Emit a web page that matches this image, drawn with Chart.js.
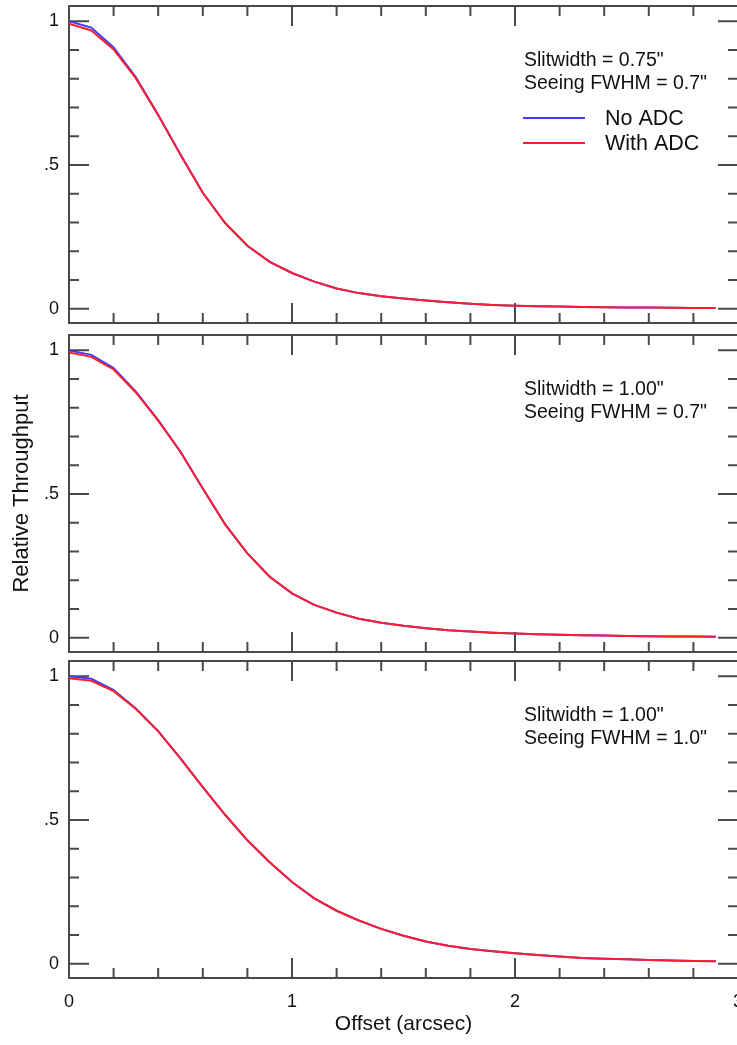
<!DOCTYPE html>
<html>
<head>
<meta charset="utf-8">
<script src="https://cdn.jsdelivr.net/npm/chart.js@4.4.1/dist/chart.umd.min.js"></script>
<style>
  html, body { margin: 0; padding: 0; background: #fff; overflow: hidden; width: 737px; height: 1045px; }
  canvas { position: absolute; left: 0; }
</style>
</head>
<body>
<canvas id="panel1" width="740" height="330" style="top:0px"></canvas>
<canvas id="panel2" width="740" height="325" style="top:330px"></canvas>
<canvas id="panel3" width="740" height="390" style="top:655px"></canvas>
<script>
// offsets along the slit (arcsec)
const offsets = [0, 0.1, 0.2, 0.3, 0.4, 0.5, 0.6, 0.7, 0.8, 0.9, 1.0, 1.1, 1.2, 1.3, 1.4,
                 1.5, 1.6, 1.7, 1.8, 1.9, 2.0, 2.1, 2.2, 2.3, 2.4, 2.5, 2.6, 2.7, 2.8, 2.9];

// slit 0.75", seeing 0.7"
const noAdc1 = [1.000, 0.978, 0.909, 0.805, 0.675, 0.536, 0.403, 0.298, 0.219, 0.163, 0.124, 0.094, 0.070, 0.054, 0.043,
                0.035, 0.028, 0.022, 0.017, 0.013, 0.010, 0.008, 0.007, 0.006, 0.005, 0.004, 0.0035, 0.003, 0.0025, 0.002];
const withAdc1 = [0.991, 0.968, 0.902, 0.801, 0.673, 0.535, 0.403, 0.298, 0.219, 0.163, 0.124, 0.094, 0.070, 0.054, 0.043,
                  0.035, 0.028, 0.022, 0.017, 0.013, 0.010, 0.008, 0.007, 0.006, 0.005, 0.004, 0.0035, 0.003, 0.0025, 0.002];
// slit 1.00", seeing 0.7"
const noAdc2 = [0.999, 0.984, 0.938, 0.856, 0.757, 0.647, 0.519, 0.394, 0.293, 0.212, 0.154, 0.114, 0.087, 0.066, 0.052,
                0.041, 0.033, 0.026, 0.021, 0.017, 0.014, 0.012, 0.010, 0.008, 0.007, 0.006, 0.005, 0.004, 0.004, 0.003];
const withAdc2 = [0.992, 0.977, 0.933, 0.853, 0.755, 0.646, 0.519, 0.394, 0.293, 0.212, 0.154, 0.114, 0.087, 0.066, 0.052,
                  0.041, 0.033, 0.026, 0.021, 0.017, 0.014, 0.012, 0.010, 0.008, 0.007, 0.006, 0.005, 0.004, 0.004, 0.003];
// slit 1.00", seeing 1.0"
const noAdc3 = [1.000, 0.991, 0.952, 0.888, 0.809, 0.714, 0.614, 0.518, 0.429, 0.353, 0.284, 0.227, 0.184, 0.150, 0.121,
                0.097, 0.077, 0.062, 0.051, 0.043, 0.036, 0.030, 0.025, 0.020, 0.017, 0.015, 0.013, 0.011, 0.009, 0.008];
const withAdc3 = [0.993, 0.984, 0.948, 0.886, 0.808, 0.713, 0.614, 0.518, 0.429, 0.353, 0.284, 0.227, 0.184, 0.150, 0.121,
                  0.097, 0.077, 0.062, 0.051, 0.043, 0.036, 0.030, 0.025, 0.020, 0.017, 0.015, 0.013, 0.011, 0.009, 0.008];

const notes1 = ['Slitwidth = 0.75"', 'Seeing FWHM = 0.7"'];
const notes2 = ['Slitwidth = 1.00"', 'Seeing FWHM = 0.7"'];
const notes3 = ['Slitwidth = 1.00"', 'Seeing FWHM = 1.0"'];

const yTicks = [0, 0.5, 1];
const yTickLabels = ['0', '.5', '1'];
const xTicks = [0, 1, 2, 3];
const xTickLabels = ['0', '1', '2', '3'];

const BLUE = 'rgb(60,60,255)';
const RED = 'rgb(255,30,45)';
const AXIS = '#4a4a4a';
const FONT = '"Liberation Sans", Arial, Helvetica, sans-serif';

// frame with inward ticks on all four sides, panel notes and key
const panelDecor = {
  id: 'panelDecor',
  beforeDatasetsDraw(chart) {
    const { ctx, chartArea: a, scales: { x, y } } = chart;
    ctx.save();
    ctx.strokeStyle = AXIS;
    ctx.lineWidth = 2;
    ctx.strokeRect(a.left, a.top, a.right - a.left, a.bottom - a.top);
    ctx.beginPath();
    for (let i = 0; i <= 15; i++) {
      const px = x.getPixelForValue(i * 0.2);
      const len = i % 5 === 0 ? 20 : 10;
      ctx.moveTo(px, a.bottom); ctx.lineTo(px, a.bottom - len);
      ctx.moveTo(px, a.top); ctx.lineTo(px, a.top + len);
    }
    for (let i = 0; i <= 10; i++) {
      const py = y.getPixelForValue(i / 10);
      const len = i % 5 === 0 ? 20 : 10;
      ctx.moveTo(a.left, py); ctx.lineTo(a.left + len, py);
      ctx.moveTo(a.right, py); ctx.lineTo(a.right - len, py);
    }
    ctx.stroke();
    ctx.restore();
  },
  afterDatasetsDraw(chart, args, opts) {
    const { ctx, chartArea: a } = chart;
    ctx.save();
    ctx.fillStyle = '#111';
    ctx.textAlign = 'left';
    ctx.textBaseline = 'middle';
    ctx.font = '19.5px ' + FONT;
    (opts.notes || []).forEach((t, i) => ctx.fillText(t, 524, a.top + 55 + i * 23));
    if (opts.showKey) {
      const sets = chart.data.datasets;
      ctx.font = '21.5px ' + FONT;
      ctx.lineWidth = 2;
      sets.forEach((ds, i) => {
        const ky = a.top + 112 + i * 25;
        ctx.strokeStyle = ds.borderColor;
        ctx.beginPath(); ctx.moveTo(523, ky); ctx.lineTo(585, ky); ctx.stroke();
        ctx.fillText(ds.label, 605, ky + 1);
      });
    }
    ctx.restore();
  }
};

function makePanel(id, noAdc, withAdc, notes, o) {
  return new Chart(document.getElementById(id), {
    type: 'line',
    data: {
      datasets: [
        { label: 'No ADC', data: offsets.map((v, i) => ({ x: v, y: noAdc[i] })), borderColor: BLUE, order: 1 },
        { label: 'With ADC', data: offsets.map((v, i) => ({ x: v, y: withAdc[i] })), borderColor: RED, order: 0 }
      ]
    },
    options: {
      responsive: false,
      animation: false,
      devicePixelRatio: 1,
      layout: { padding: { top: o.padTop, right: 2, left: 0, bottom: 0 } },
      elements: { point: { radius: 0 }, line: { borderWidth: 2, tension: 0 } },
      plugins: {
        legend: { display: false },
        tooltip: { enabled: false },
        panelDecor: { notes: notes, showKey: o.showKey }
      },
      scales: {
        x: {
          type: 'linear', min: 0, max: 3,
          grid: { display: false }, border: { display: false },
          ticks: {
            display: o.xLabels, padding: 5, color: '#111', maxRotation: 0, autoSkip: false,
            font: { family: FONT, size: 18 },
            callback: v => xTickLabels[xTicks.indexOf(v)]
          },
          title: {
            display: o.xLabels, text: 'Offset (arcsec)', color: '#111',
            font: { family: FONT, size: 21 }, padding: { top: 0, bottom: 8 }
          },
          afterBuildTicks: s => { s.ticks = xTicks.map(v => ({ value: v })); },
          afterFit: s => { s.height = o.xHeight; s.paddingLeft = 0; s.paddingRight = 0; }
        },
        y: {
          type: 'linear', min: -0.05, max: 1.053,
          grid: { display: false }, border: { display: false },
          ticks: {
            padding: 2, color: '#111',
            font: { family: FONT, size: 18 },
            callback: v => yTickLabels[yTicks.indexOf(v)]
          },
          title: {
            display: o.yTitle, text: 'Relative Throughput', color: '#111',
            font: { family: FONT, size: 22 }, padding: { top: 9, bottom: 0 }
          },
          afterBuildTicks: s => { s.ticks = yTicks.map(v => ({ value: v })); },
          afterFit: s => { s.width = 69; s.paddingTop = 0; s.paddingBottom = 0; }
        }
      }
    },
    plugins: [panelDecor]
  });
}

makePanel('panel1', noAdc1, withAdc1, notes1, { padTop: 6, xHeight: 7, xLabels: false, yTitle: false, showKey: true });
makePanel('panel2', noAdc2, withAdc2, notes2, { padTop: 5, xHeight: 3, xLabels: false, yTitle: true, showKey: false });
makePanel('panel3', noAdc3, withAdc3, notes3, { padTop: 6, xHeight: 67, xLabels: true, yTitle: false, showKey: false });
</script>
</body>
</html>
